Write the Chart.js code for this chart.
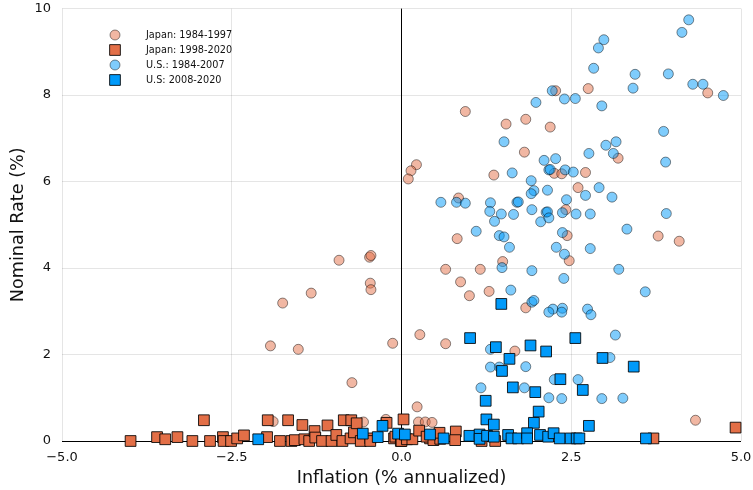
<!DOCTYPE html>
<html>
<head>
<meta charset="utf-8">
<script src="https://cdn.jsdelivr.net/npm/chart.js@4/dist/chart.umd.min.js"></script>
<style>
  html, body { margin: 0; padding: 0; background: #ffffff; }
  #c { display: block; }
</style>
</head>
<body>
<canvas id="c" width="753" height="490"></canvas>
<script>
// Series names
const seriesLabels = ['Japan: 1984-1997', 'Japan: 1998-2020', 'U.S.: 1984-2007', 'U.S: 2008-2020'];

// [inflation, nominal rate] pairs
const japan1984 = [
  [0.22,6.39],[0.14,6.25],[0.10,6.06],
  [-0.92,4.18],[-0.47,4.25],[-0.45,4.29],[-0.46,3.65],[-0.45,3.50],[-1.33,3.42],[-1.75,3.19],
  [-1.93,2.20],[-1.52,2.12],[-0.13,2.26],[-0.73,1.35],[0.27,2.46],
  [-1.89,0.45],[-0.56,0.44],[-0.23,0.50],[0.23,0.79],[0.25,0.44],[0.35,0.44],[0.45,0.43],
  [4.33,0.48],[0.65,2.25],[1.67,2.08],[1.83,3.08],
  [0.94,7.62],[1.54,7.33],[1.83,7.44],[2.19,7.26],[1.81,6.68],[2.27,8.10],[2.75,8.15],[4.51,8.05],[3.19,6.54],
  [1.36,6.15],[2.25,6.19],[2.36,6.18],[2.71,6.21],[2.60,5.86],[0.84,5.62],[2.42,5.35],[0.82,4.68],
  [2.44,4.75],[3.78,4.74],[4.09,4.62],[1.49,4.15],[2.47,4.17],[0.65,3.97],[1.16,3.97],[0.87,3.68],
  [1.00,3.36],[1.29,3.46]
];

const japan1998 = [
  [-3.99,0.00],[-3.60,0.09],[-3.48,0.04],[-3.30,0.09],[-3.08,0.00],[-2.91,0.48],[-2.82,0.00],
  [-2.63,0.09],[-2.62,0.00],[-2.51,0.00],[-2.42,0.06],[-2.32,0.13],[-1.97,0.48],[-1.98,0.09],
  [-1.79,0.00],[-1.67,0.48],[-1.62,0.00],[-1.57,0.02],[-1.43,0.04],[-1.36,0.00],[-1.46,0.37],
  [-1.28,0.23],[-1.27,0.08],[-1.17,0.00],[-1.09,0.36],[-1.03,0.00],[-0.96,0.14],[-0.87,0.00],
  [-0.85,0.48],[-0.74,0.48],[-0.75,0.06],[-0.70,0.20],[-0.66,0.41],[-0.60,0.00],[-0.46,0.06],
  [-0.46,0.00],[-0.22,0.42],[-0.11,0.06],[-0.09,0.10],[-0.01,0.00],[0.03,0.50],[0.00,0.00],
  [0.08,0.04],[0.16,0.04],[0.26,0.24],[0.42,0.06],[0.37,0.10],[0.47,0.02],[0.57,0.05],[0.56,0.19],
  [0.80,0.22],[0.79,0.02],[1.18,0.00],[1.38,0.00],[3.71,0.06],[4.92,0.31]
];

const us1984 = [
  [4.23,9.74],[4.13,9.45],[2.98,9.28],[2.90,9.09],[2.83,8.62],[3.44,8.48],[3.93,8.49],[4.29,8.25],
  [4.44,8.25],[4.74,7.99],[3.41,8.16],[2.22,8.10],[2.40,7.91],[2.56,7.92],[1.98,7.83],[2.95,7.75],
  [3.86,7.16],[1.51,6.92],[3.01,6.84],[3.16,6.92],[2.76,6.65],[3.12,6.65],[2.10,6.49],[2.27,6.53],[3.89,6.45],
  [1.63,6.20],[2.17,6.27],[2.19,6.28],[2.41,6.27],[2.53,6.22],[1.91,6.02],[1.95,5.79],[1.91,5.72],
  [2.15,5.80],[2.71,5.68],[2.91,5.86],[3.10,5.64],[0.58,5.52],[0.81,5.52],[0.94,5.50],[1.31,5.51],
  [1.70,5.52],[1.72,5.53],[2.43,5.58],[1.30,5.31],[1.47,5.25],[1.65,5.24],[1.92,5.35],[2.13,5.29],
  [2.15,5.30],[2.37,5.28],[2.57,5.25],[2.78,5.25],[3.90,5.26],[1.37,5.08],[2.05,5.07],[2.17,5.16],
  [1.10,4.85],[1.44,4.75],[1.51,4.72],[2.37,4.82],[3.32,4.90],[1.59,4.48],[2.28,4.48],[2.78,4.45],
  [2.40,4.32],[1.48,4.01],[1.92,3.94],[2.39,3.76],[3.20,3.97],[1.61,3.49],[3.59,3.45],[1.92,3.21],
  [1.95,3.25],[2.23,3.05],[2.37,3.07],[2.74,3.05],
  [2.17,2.98],[2.36,2.98],[2.79,2.92],[3.15,2.45],[1.31,2.12],[1.44,1.71],[1.31,1.71],[1.83,1.72],
  [2.25,1.42],[2.60,1.42],[1.17,1.23],[1.81,1.23],[2.17,1.00],[2.36,0.98],[2.95,0.98],[3.26,0.99],[3.07,1.93]
];

const us2008 = [
  [1.47,3.17],[1.01,2.38],[2.56,2.38],[1.39,2.17],[1.90,2.21],[2.13,2.07],[1.59,1.90],[2.96,1.92],
  [3.42,1.72],[1.48,1.62],[2.34,1.43],[1.64,1.24],[1.97,1.13],[2.67,1.18],[1.24,0.93],[2.02,0.68],
  [1.25,0.50],[1.36,0.38],[1.95,0.42],[2.76,0.35],
  [-2.11,0.04],[-0.57,0.17],[-0.35,0.09],[-0.28,0.35],[-0.05,0.17],[0.05,0.15],[0.42,0.15],[0.62,0.06],
  [1.00,0.12],[1.15,0.15],[1.15,0.05],[1.26,0.12],[1.36,0.10],[1.57,0.14],[1.62,0.06],[1.72,0.06],
  [1.85,0.18],[1.85,0.06],[2.04,0.14],[2.16,0.10],[2.24,0.18],[2.33,0.06],[2.49,0.06],[2.58,0.06],
  [2.62,0.06],[3.60,0.06]
];

// Axis ticks
const xTickValues = [-5, -2.5, 0, 2.5, 5];
const xTickLabels = ['\u22125.0', '\u22122.5', '0.0', '2.5', '5.0'];
const yTickValues = [0, 2, 4, 6, 8, 10];
const yTickLabels = ['0', '2', '4', '6', '8', '10'];

const toPoints = arr => arr.map(([x, y]) => ({ x, y }));

const FONT = "'DejaVu Sans', 'Liberation Sans', sans-serif";

// Legend drawn inside the plot, upper left
const cornerLegend = {
  id: 'cornerLegend',
  afterDraw(chart) {
    const ctx = chart.ctx;
    const rows = [35, 50, 65, 80];
    ctx.save();
    chart.data.datasets.forEach((ds, i) => {
      const y = rows[i];
      ctx.fillStyle = ds.pointBackgroundColor;
      ctx.strokeStyle = ds.pointBorderColor;
      ctx.lineWidth = ds.pointBorderWidth;
      Chart.helpers.drawPoint(ctx, {
        pointStyle: ds.pointStyle,
        radius: ds.pointRadius,
        rotation: 0,
        borderWidth: ds.pointBorderWidth
      }, 115, y);
      ctx.fillStyle = '#111';
      ctx.font = '9.7px ' + FONT;
      ctx.textAlign = 'left';
      ctx.textBaseline = 'middle';
      ctx.fillText(ds.label, 146, y + 0.5);
    });
    ctx.restore();
  }
};

const gridColor = c => (c.tick && c.tick.value === 0) ? '#000000' : 'rgba(0,0,0,0.1)';

new Chart(document.getElementById('c'), {
  type: 'scatter',
  data: {
    datasets: [
      {
        label: seriesLabels[0], data: toPoints(japan1984), order: 4,
        pointStyle: 'circle', pointRadius: 5, pointHoverRadius: 5,
        pointBackgroundColor: 'rgba(227,111,71,0.5)', pointBorderColor: 'rgba(0,0,0,0.45)', pointBorderWidth: 1,
        clip: false
      },
      {
        label: seriesLabels[1], data: toPoints(japan1998), order: 3,
        pointStyle: 'rect', pointRadius: 7.6, pointHoverRadius: 7.6,
        pointBackgroundColor: 'rgb(227,111,71)', pointBorderColor: 'rgba(0,0,0,0.85)', pointBorderWidth: 1,
        clip: false
      },
      {
        label: seriesLabels[2], data: toPoints(us1984), order: 2,
        pointStyle: 'circle', pointRadius: 5, pointHoverRadius: 5,
        pointBackgroundColor: 'rgba(0,154,250,0.5)', pointBorderColor: 'rgba(0,0,0,0.45)', pointBorderWidth: 1,
        clip: false
      },
      {
        label: seriesLabels[3], data: toPoints(us2008), order: 1,
        pointStyle: 'rect', pointRadius: 7.6, pointHoverRadius: 7.6,
        pointBackgroundColor: 'rgb(0,154,250)', pointBorderColor: 'rgba(0,0,0,0.85)', pointBorderWidth: 1,
        clip: false
      }
    ]
  },
  options: {
    responsive: false,
    animation: false,
    devicePixelRatio: 1,
    layout: { padding: { top: 8, right: 12, left: 0, bottom: 0 } },
    plugins: { legend: { display: false }, tooltip: { enabled: false } },
    scales: {
      x: {
        type: 'linear', min: -5, max: 5,
        afterBuildTicks: s => { s.ticks = xTickValues.map(v => ({ value: v })); },
        afterFit: s => { s.height = 49; s.paddingLeft = 0; s.paddingRight = 0; },
        ticks: {
          callback: (v) => xTickLabels[xTickValues.indexOf(v)],
          color: '#111', font: { family: FONT, size: 13 }, padding: 9, maxRotation: 0, autoSkip: false
        },
        grid: { color: gridColor, lineWidth: 1, drawTicks: false },
        border: { display: false },
        title: {
          display: true, text: 'Inflation (% annualized)', color: '#111',
          font: { family: FONT, size: 17.6 }, padding: { top: 1, bottom: 1 }
        }
      },
      y: {
        type: 'linear', min: 0, max: 10,
        afterBuildTicks: s => { s.ticks = yTickValues.map(v => ({ value: v })); },
        afterFit: s => { s.width = 62; s.paddingTop = 0; s.paddingBottom = 0; },
        ticks: {
          callback: (v) => yTickLabels[yTickValues.indexOf(v)],
          color: '#111', font: { family: FONT, size: 13 }, padding: 11, autoSkip: false
        },
        grid: { color: gridColor, lineWidth: 1, drawTicks: false },
        border: { display: false },
        title: {
          display: true, text: 'Nominal Rate (%)', color: '#111',
          font: { family: FONT, size: 17.6 }, padding: { top: 8, bottom: 8 }
        }
      }
    }
  },
  plugins: [cornerLegend]
});
</script>
</body>
</html>
